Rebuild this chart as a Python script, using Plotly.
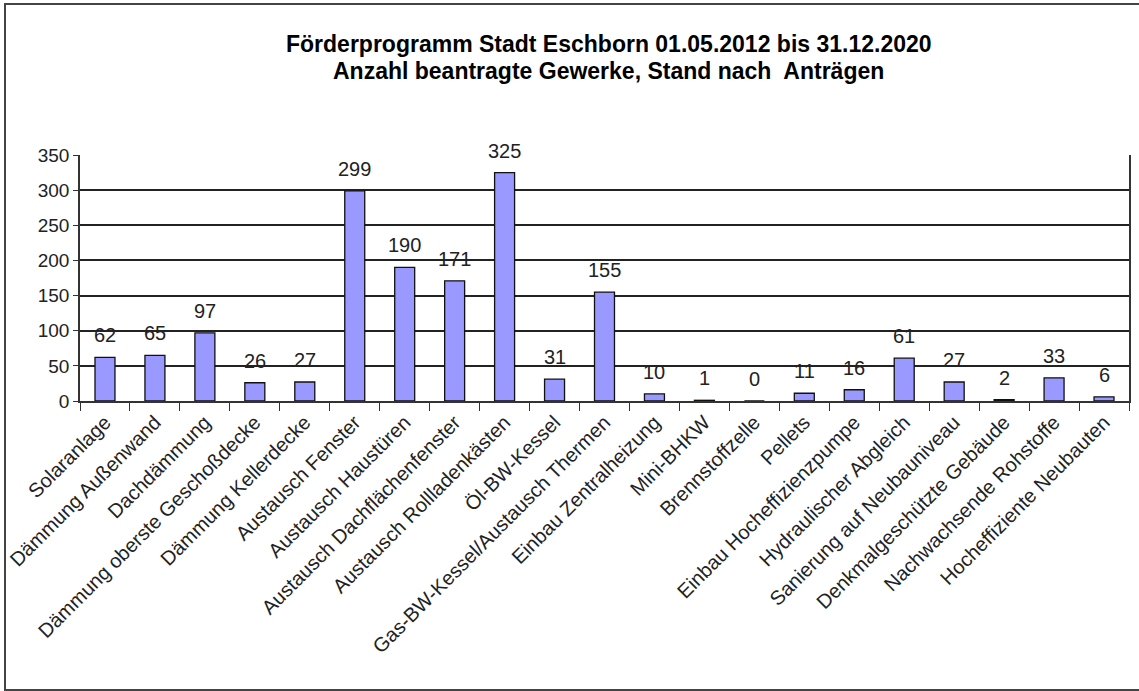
"""Förderprogramm Stadt Eschborn – Anzahl beantragte Gewerke (Balkendiagramm)."""
import plotly.graph_objects as go

GEWERKE = [
    "Solaranlage",
    "Dämmung Außenwand",
    "Dachdämmung",
    "Dämmung oberste Geschoßdecke",
    "Dämmung Kellerdecke",
    "Austausch Fenster",
    "Austausch Haustüren",
    "Austausch Dachflächenfenster",
    "Austausch Rollladenkästen",
    "Öl-BW-Kessel",
    "Gas-BW-Kessel/Austausch Thermen",
    "Einbau Zentralheizung",
    "Mini-BHKW",
    "Brennstoffzelle",
    "Pellets",
    "Einbau Hocheffizienzpumpe",
    "Hydraulischer Abgleich",
    "Sanierung auf Neubauniveau",
    "Denkmalgeschützte Gebäude",
    "Nachwachsende Rohstoffe",
    "Hocheffiziente Neubauten",
]
ANZAHL = [62, 65, 97, 26, 27, 299, 190, 171, 325, 31, 155, 10, 1, 0, 11, 16, 61, 27, 2, 33, 6]

Y_TICKS = [0, 50, 100, 150, 200, 250, 300, 350]

TITLE_LINES = [
    "Förderprogramm Stadt Eschborn 01.05.2012 bis 31.12.2020",
    "Anzahl beantragte Gewerke, Stand nach  Anträgen",
]

BAR_COLOR = "#9999FF"
FONT = "Liberation Sans, Arial, sans-serif"

fig = go.Figure(
    go.Bar(
        x=GEWERKE, y=ANZAHL,
        marker=dict(color=BAR_COLOR, line=dict(color="#111111", width=1.3)),
        hoverinfo="x+y",
    )
)

# Datenbeschriftungen über den Balken
for name, val in zip(GEWERKE, ANZAHL):
    fig.add_annotation(
        x=name, y=val, text=str(val), showarrow=False,
        yanchor="middle", yshift=22,
        font=dict(family=FONT, size=20, color="#222222"),
    )

# zweizeiliger Titel, enger Zeilenabstand wie im Original
for line, ty in zip(TITLE_LINES, (1.451, 1.341)):
    fig.add_annotation(
        text=line, xref="paper", yref="paper", x=0.504, y=ty,
        xanchor="center", yanchor="middle", showarrow=False,
        font=dict(family=FONT, size=23, color="#000000", weight="bold"),
    )

# Rahmen um das gesamte Diagramm (rechter Rand liegt außerhalb des Bildes)
fig.add_shape(
    type="rect", xref="paper", yref="paper",
    x0=-0.0715, x1=1.04, y0=-1.175, y1=1.614,
    line=dict(color="#444444", width=2), layer="below",
)

fig.update_layout(
    width=1139, height=691,
    margin=dict(l=80, r=10, t=155, b=290),
    paper_bgcolor="white", plot_bgcolor="white",
    bargap=0.6, showlegend=False,
    font=dict(family=FONT, color="#222222"),
)
fig.update_xaxes(
    tickangle=-45, tickfont=dict(family=FONT, size=20, color="#222222"),
    ticks="outside", tickson="boundaries", ticklen=8, tickcolor="#333333", tickwidth=1.3,
    showline=True, linecolor="#333333", linewidth=1.5,
    showgrid=False, automargin=False,
)
fig.update_yaxes(
    range=[0, 350], tickvals=Y_TICKS,
    tickfont=dict(family=FONT, size=19, color="#222222"),
    ticks="outside", ticklen=5, tickcolor="#333333",
    showline=True, mirror=True, linecolor="#333333", linewidth=1.5,
    showgrid=True, gridcolor="#222222", gridwidth=1.5,
    zeroline=False, automargin=False,
)

fig.write_html(
    "out.html",
    config={"displayModeBar": False},
    post_script="document.body.style.margin='0';",
)
